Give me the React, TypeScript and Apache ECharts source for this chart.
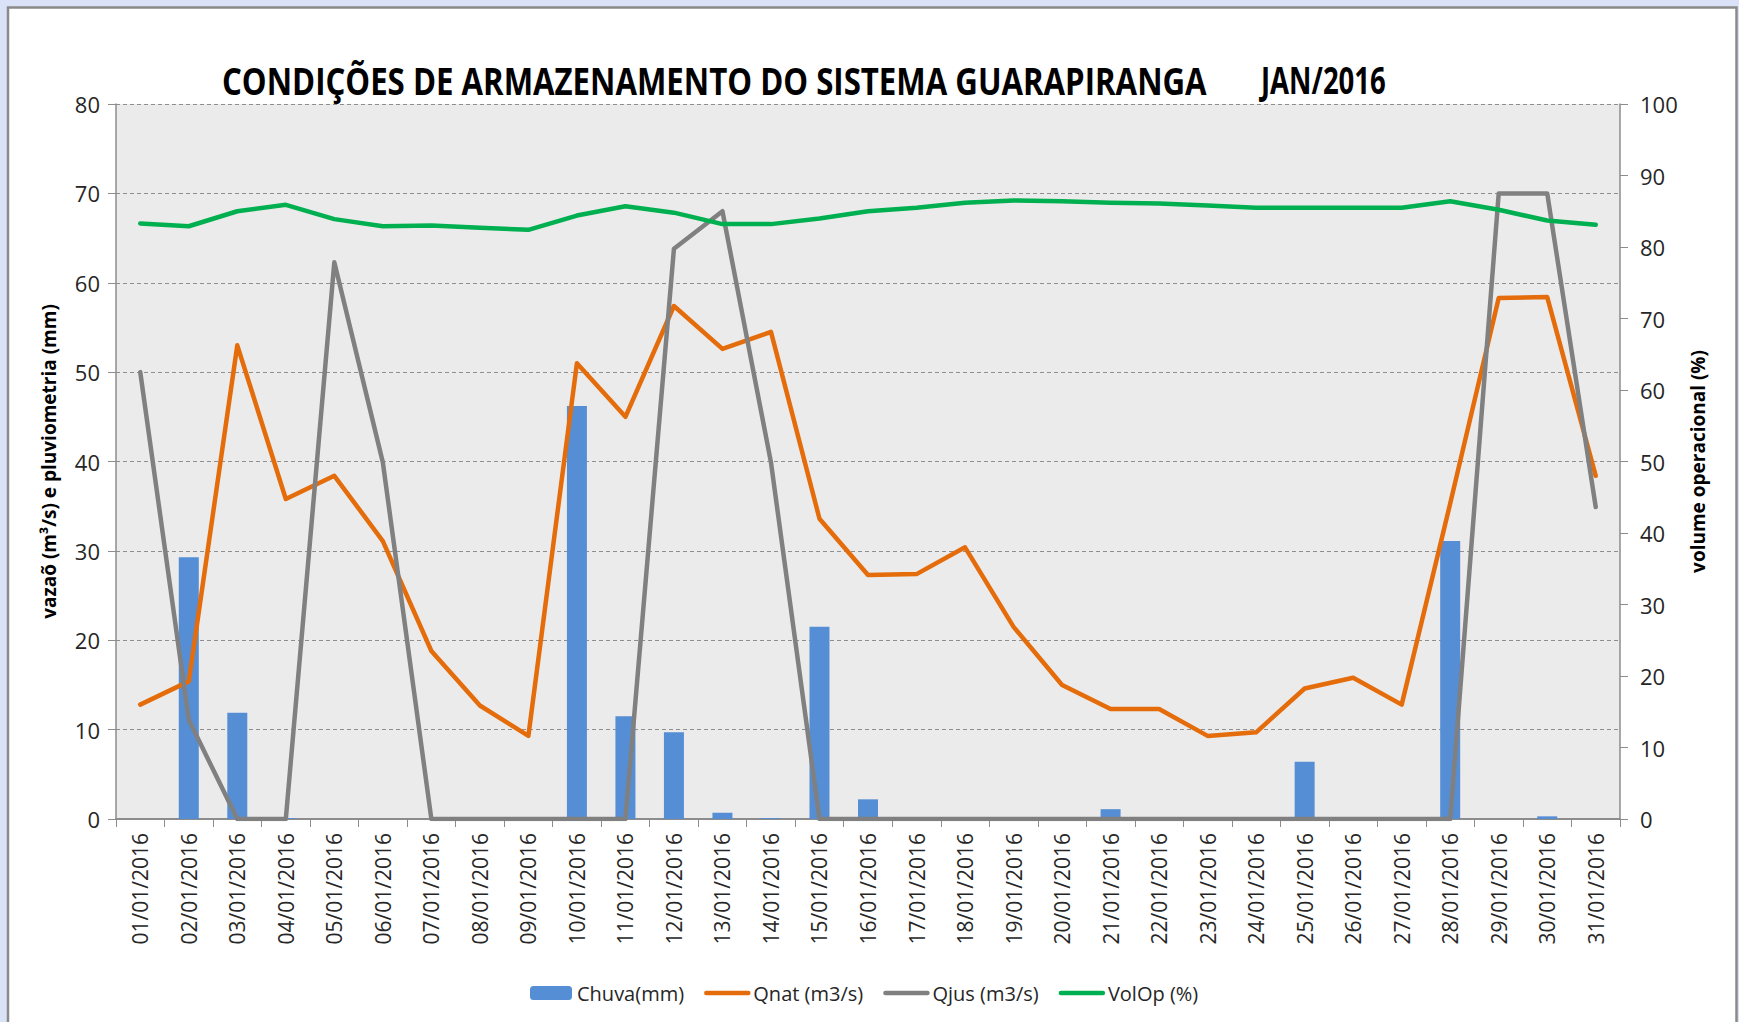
import React, { useEffect, useRef } from "react";
import * as echarts from "echarts";

const categories = [
  "01/01/2016", "02/01/2016", "03/01/2016", "04/01/2016", "05/01/2016", "06/01/2016",
  "07/01/2016", "08/01/2016", "09/01/2016", "10/01/2016", "11/01/2016", "12/01/2016",
  "13/01/2016", "14/01/2016", "15/01/2016", "16/01/2016", "17/01/2016", "18/01/2016",
  "19/01/2016", "20/01/2016", "21/01/2016", "22/01/2016", "23/01/2016", "24/01/2016",
  "25/01/2016", "26/01/2016", "27/01/2016", "28/01/2016", "29/01/2016", "30/01/2016",
  "31/01/2016",
];

const chuva = [0, 29.3, 11.9, 0.1, 0, 0, 0, 0, 0, 46.2, 11.5, 9.7, 0.7, 0.1, 21.5, 2.2,
  0, 0, 0, 0, 1.1, 0, 0, 0, 6.4, 0, 0, 31.1, 0, 0.3, 0];

const qnat = [12.8, 15.4, 53.0, 35.8, 38.4, 31.1, 18.8, 12.7, 9.3, 51.0, 45.0, 57.4, 52.6,
  54.5, 33.6, 27.3, 27.4, 30.4, 21.5, 15.0, 12.3, 12.3, 9.3, 9.7, 14.6, 15.8, 12.8, 35.3,
  58.3, 58.4, 38.4];

const qjus = [50.0, 11.1, 0, 0, 62.3, 39.9, 0, 0, 0, 0, 0, 63.8, 68.0, 39.9, 0, 0, 0, 0, 0,
  0, 0, 0, 0, 0, 0, 0, 0, 0, 70.0, 70.0, 34.9];

const volOp = [83.3, 82.9, 85.0, 85.9, 83.9, 82.9, 83.0, 82.7, 82.4, 84.4, 85.7, 84.8, 83.2,
  83.2, 84.0, 85.0, 85.5, 86.2, 86.5, 86.4, 86.2, 86.1, 85.8, 85.5, 85.5, 85.5, 85.5, 86.4,
  85.2, 83.7, 83.1];

const titleMain = "CONDIÇÕES DE ARMAZENAMENTO DO SISTEMA GUARAPIRANGA";
const titleDate = "JAN/2016";
const leftAxisName = "vazaõ (m³/s) e pluviometria (mm)";
const rightAxisName = "volume operacional (%)";
const legendNames = ["Chuva(mm)", "Qnat (m3/s)", "Qjus (m3/s)", "VolOp (%)"];

const FONT = '"Open Sans", "Noto Sans", sans-serif';

function measure(text: string, font: string): number {
  const c = document.createElement("canvas");
  const ctx = c.getContext("2d");
  if (!ctx) return text.length * 20;
  ctx.font = font;
  return ctx.measureText(text).width;
}

export default function App() {
  const ref = useRef<HTMLDivElement>(null);

  useEffect(() => {
    document.body.style.margin = "0";
    if (!ref.current) return;
    const chart = echarts.init(ref.current, undefined, { renderer: "svg" });

    const titleFont = `bold 38px ${FONT}`;
    const w1 = measure(titleMain, titleFont);
    const w2 = measure(titleDate, titleFont);
    const s1 = 985 / w1;
    const s2 = 125 / w2;

    const axisGray = "#8c8c8c";
    const textColor = "#262626";

    chart.setOption({
      animation: false,
      backgroundColor: "#dae2f8",
      graphic: [
        {
          type: "rect",
          z: -10,
          silent: true,
          shape: { x: 8, y: 7.5, width: 1728.5, height: 1030 },
          style: { fill: "#ffffff", stroke: "#8a8a8a", lineWidth: 2.5 },
        },
        {
          type: "text",
          x: 222,
          y: 80,
          scaleX: s1,
          style: {
            text: titleMain,
            font: titleFont,
            fill: "#000000",
            textAlign: "left",
            textVerticalAlign: "middle",
          },
        },
        {
          type: "text",
          x: 1261,
          y: 80,
          scaleX: s2,
          style: {
            text: titleDate,
            font: titleFont,
            fill: "#000000",
            textAlign: "left",
            textVerticalAlign: "middle",
          },
        },
      ],
      grid: {
        left: 116,
        right: 119,
        top: 104,
        bottom: 203,
        show: true,
        backgroundColor: "#ebebeb",
        borderWidth: 0,
      },
      legend: {
        data: [
          { name: legendNames[0] },
          { name: legendNames[1], itemStyle: { opacity: 0 } },
          { name: legendNames[2], itemStyle: { opacity: 0 } },
          { name: legendNames[3], itemStyle: { opacity: 0 } },
        ],
        left: 525,
        top: 978,
        itemWidth: 42,
        itemHeight: 14,
        itemGap: 20,
        lineStyle: { width: 4.5, cap: "round" },
        textStyle: { fontFamily: FONT, fontSize: 20, color: textColor },
      },
      xAxis: {
        type: "category",
        data: categories,
        boundaryGap: true,
        axisLine: { show: true, onZero: true, lineStyle: { color: axisGray, width: 2 } },
        axisTick: { show: true, alignWithLabel: false, length: 8, lineStyle: { color: axisGray, width: 1 } },
        axisLabel: {
          rotate: 90,
          interval: 0,
          margin: 14,
          fontFamily: FONT,
          fontSize: 21,
          color: textColor,
        },
        splitLine: { show: false },
      },
      yAxis: [
        {
          type: "value",
          min: 0,
          max: 80,
          interval: 10,
          name: leftAxisName,
          nameLocation: "middle",
          nameRotate: 90,
          nameGap: 58,
          nameTextStyle: { fontFamily: FONT, fontSize: 19, fontWeight: "bold", color: "#000000" },
          axisLine: { show: true, lineStyle: { color: axisGray, width: 1.5 } },
          axisTick: { show: true, length: 8, lineStyle: { color: axisGray } },
          axisLabel: { margin: 16, fontFamily: FONT, fontSize: 22, color: textColor },
          splitLine: { show: true, lineStyle: { color: "#8f8f8f", type: [4, 3], width: 1 } },
        },
        {
          type: "value",
          min: 0,
          max: 100,
          interval: 10,
          position: "right",
          name: rightAxisName,
          nameLocation: "middle",
          nameRotate: 90,
          nameGap: 68,
          nameTextStyle: { fontFamily: FONT, fontSize: 19, fontWeight: "bold", color: "#000000" },
          axisLine: { show: true, lineStyle: { color: axisGray, width: 1.5 } },
          axisTick: { show: true, length: 8, lineStyle: { color: axisGray } },
          axisLabel: { margin: 20, fontFamily: FONT, fontSize: 22, color: textColor },
          splitLine: { show: false },
        },
      ],
      series: [
        {
          name: legendNames[0],
          type: "bar",
          data: chuva,
          barWidth: 20,
          itemStyle: { color: "#558ed5" },
        },
        {
          name: legendNames[1],
          type: "line",
          data: qnat,
          symbol: "none",
          lineStyle: { color: "#e46c0a", width: 4.5, cap: "round", join: "round" },
          itemStyle: { color: "#e46c0a" },
        },
        {
          name: legendNames[2],
          type: "line",
          data: qjus,
          symbol: "none",
          lineStyle: { color: "#808080", width: 4.5, cap: "round", join: "round" },
          itemStyle: { color: "#808080" },
        },
        {
          name: legendNames[3],
          type: "line",
          data: volOp,
          yAxisIndex: 1,
          symbol: "none",
          lineStyle: { color: "#00b050", width: 4.5, cap: "round", join: "round" },
          itemStyle: { color: "#00b050" },
        },
      ],
    });

    return () => {
      chart.dispose();
    };
  }, []);

  return (
    <div
      ref={ref}
      style={{ position: "fixed", left: 0, top: 0, width: 1739, height: 1022 }}
    />
  );
}
